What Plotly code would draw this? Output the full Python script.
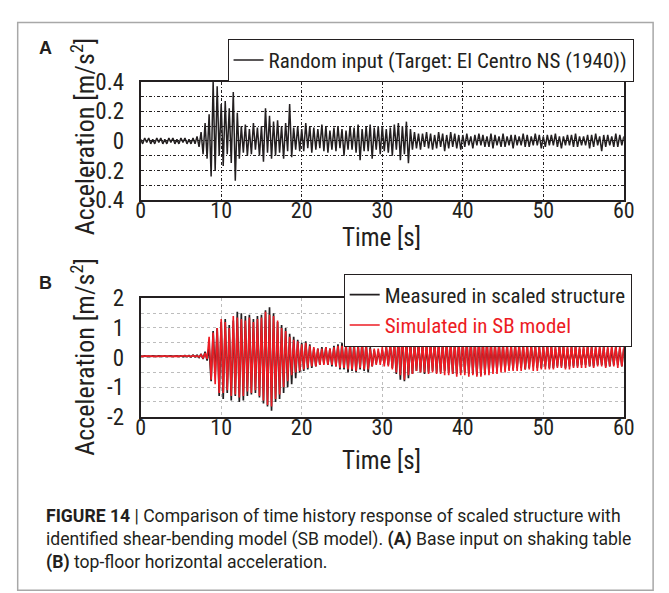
import plotly.graph_objects as go

# ---------------- data (one row per second, 0.25 s step) ----------------
DT = 0.25

random_input = [
    0.01, -0.02, 0.02, -0.01,   # 0
    0.02, -0.02, 0.01, -0.02,   # 1
    0.02, -0.01, 0.02, -0.02,   # 2
    0.01, -0.02, 0.02, -0.01,   # 3
    0.02, -0.02, 0.01, -0.02,   # 4
    0.02, -0.01, 0.02, -0.02,   # 5
    0.01, -0.02, 0.02, -0.02,   # 6
    0.03, -0.04, 0.06, -0.09,   # 7
    0.12, -0.12, 0.18, -0.24,   # 8
    0.40, -0.20, 0.37, -0.10,   # 9
    0.25, -0.17, 0.27, -0.09,   # 10
    0.22, -0.15, 0.33, -0.27,   # 11
    0.19, -0.12, 0.10, -0.08,   # 12
    0.11, -0.10, 0.08, -0.09,   # 13
    0.12, -0.06, 0.09, -0.10,   # 14
    0.10, -0.14, 0.22, -0.08,   # 15
    0.17, -0.12, 0.13, -0.10,   # 16
    0.14, -0.08, 0.10, -0.12,   # 17
    0.12, -0.07, 0.25, -0.11,   # 18
    0.09, -0.06, 0.10, -0.07,   # 19
    0.08, -0.07, 0.12, -0.05,   # 20
    0.10, -0.08, 0.09, -0.06,   # 21
    0.08, -0.05, 0.11, -0.07,   # 22
    0.10, -0.08, 0.07, -0.06,   # 23
    0.09, -0.07, 0.10, -0.05,   # 24
    0.08, -0.10, 0.07, -0.06,   # 25
    0.10, -0.06, 0.09, -0.08,   # 26
    0.11, -0.13, 0.08, -0.07,   # 27
    0.10, -0.07, 0.11, -0.12,   # 28
    0.09, -0.06, 0.10, -0.09,   # 29
    0.10, -0.07, 0.08, -0.08,   # 30
    0.09, -0.10, 0.11, -0.06,   # 31
    0.12, -0.13, 0.10, -0.09,   # 32
    0.13, -0.15, 0.08, -0.06,   # 33
    0.06, -0.05, 0.05, -0.06,   # 34
    0.05, -0.04, 0.06, -0.05,   # 35
    0.05, -0.06, 0.04, -0.05,   # 36
    0.06, -0.04, 0.05, -0.07,   # 37
    0.04, -0.05, 0.06, -0.04,   # 38
    0.05, -0.05, 0.04, -0.06,   # 39
    0.04, -0.04, 0.05, -0.03,   # 40
    0.03, -0.05, 0.04, -0.03,   # 41
    0.05, -0.03, 0.04, -0.04,   # 42
    0.03, -0.04, 0.05, -0.05,   # 43
    0.04, -0.03, 0.03, -0.04,   # 44
    0.05, -0.04, 0.03, -0.03,   # 45
    0.04, -0.05, 0.04, -0.03,   # 46
    0.03, -0.03, 0.05, -0.04,   # 47
    0.04, -0.04, 0.03, -0.03,   # 48
    0.05, -0.03, 0.04, -0.05,   # 49
    0.03, -0.04, 0.04, -0.03,   # 50
    0.04, -0.03, 0.05, -0.04,   # 51
    0.03, -0.05, 0.03, -0.03,   # 52
    0.04, -0.03, 0.04, -0.04,   # 53
    0.05, -0.04, 0.03, -0.03,   # 54
    0.03, -0.03, 0.04, -0.05,   # 55
    0.04, -0.04, 0.05, -0.03,   # 56
    0.03, -0.07, 0.04, -0.04,   # 57
    0.04, -0.03, 0.03, -0.04,   # 58
    0.05, -0.04, 0.04, -0.03,   # 59
    0.03,                       # 60
]

measured = [
    0.05, 0.04, 0.06, 0.04,     # 0
    0.05, 0.04, 0.06, 0.05,     # 1
    0.04, 0.06, 0.05, 0.04,     # 2
    0.06, 0.04, 0.05, 0.06,     # 3
    0.04, 0.05, 0.06, 0.04,     # 4
    0.06, 0.03, 0.07, 0.03,     # 5
    0.07, 0.02, 0.08, 0.02,     # 6
    0.08, 0.00, 0.12, -0.05,    # 7
    0.20, -0.10, 0.35, -0.80,   # 8
    0.90, -0.60, 1.00, -1.30,   # 9
    1.20, -1.40, 1.30, -1.20,   # 10
    1.10, -1.45, 1.25, -1.30,   # 11
    1.55, -1.50, 1.50, -1.45,   # 12
    1.40, -1.30, 1.45, -1.25,   # 13
    1.30, -1.20, 1.40, -1.35,   # 14
    1.45, -1.55, 1.60, -1.65,   # 15
    1.70, -1.80, 1.50, -1.50,   # 16
    1.20, -1.40, 1.10, -1.20,   # 17
    1.00, -1.00, 0.80, -0.90,   # 18
    0.70, -0.70, 0.60, -0.50,   # 19
    0.50, -0.45, 0.55, -0.40,   # 20
    0.45, -0.35, 0.30, -0.30,   # 21
    0.30, -0.25, 0.35, -0.20,   # 22
    0.35, -0.25, 0.30, -0.30,   # 23
    0.40, -0.30, 0.45, -0.40,   # 24
    0.50, -0.40, 0.45, -0.50,   # 25
    0.55, -0.45, 0.50, -0.50,   # 26
    0.45, -0.40, 0.55, -0.45,   # 27
    0.50, -0.50, 0.35, -0.30,   # 28
    0.25, -0.20, 0.20, -0.15,   # 29
    0.25, -0.20, 0.35, -0.25,   # 30
    0.45, -0.35, 0.50, -0.55,   # 31
    0.70, -0.75, 0.85, -0.80,   # 32
    0.75, -0.70, 0.60, -0.55,   # 33
    0.50, -0.45, 0.55, -0.50,   # 34
    0.50, -0.55, 0.45, -0.50,   # 35
    0.50, -0.45, 0.55, -0.50,   # 36
    0.45, -0.50, 0.50, -0.45,   # 37
    0.55, -0.50, 0.50, -0.55,   # 38
    0.50, -0.55, 0.55, -0.50,   # 39
    0.55, -0.50, 0.60, -0.55,   # 40
    0.60, -0.55, 0.55, -0.60,   # 41
    0.65, -0.60, 0.60, -0.55,   # 42
    0.55, -0.50, 0.50, -0.45,   # 43
    0.45, -0.45, 0.50, -0.40,   # 44
    0.45, -0.40, 0.40, -0.40,   # 45
    0.40, -0.40, 0.45, -0.35,   # 46
    0.40, -0.35, 0.40, -0.40,   # 47
    0.35, -0.35, 0.40, -0.30,   # 48
    0.40, -0.35, 0.35, -0.35,   # 49
    0.35, -0.30, 0.40, -0.35,   # 50
    0.35, -0.35, 0.30, -0.30,   # 51
    0.40, -0.30, 0.35, -0.35,   # 52
    0.30, -0.30, 0.35, -0.30,   # 53
    0.35, -0.30, 0.30, -0.25,   # 54
    0.30, -0.25, 0.35, -0.30,   # 55
    0.35, -0.30, 0.30, -0.25,   # 56
    0.30, -0.25, 0.35, -0.30,   # 57
    0.30, -0.30, 0.30, -0.25,   # 58
    0.35, -0.25, 0.30, -0.30,   # 59
    0.30,                       # 60
]

simulated = [
    0.04, 0.05, 0.04, 0.05,     # 0
    0.05, 0.04, 0.05, 0.04,     # 1
    0.04, 0.05, 0.04, 0.05,     # 2
    0.05, 0.04, 0.05, 0.04,     # 3
    0.04, 0.05, 0.05, 0.04,     # 4
    0.05, 0.04, 0.06, 0.04,     # 5
    0.06, 0.03, 0.07, 0.03,     # 6
    0.06, 0.02, 0.10, -0.03,    # 7
    0.15, -0.05, 0.70, -0.75,   # 8
    0.85, -0.90, 1.00, -1.20,   # 9
    1.30, -1.20, 1.20, -1.10,   # 10
    1.00, -1.30, 1.40, -1.25,   # 11
    1.35, -1.35, 1.30, -1.30,   # 12
    1.25, -1.15, 1.35, -1.20,   # 13
    1.20, -1.10, 1.30, -1.30,   # 14
    1.35, -1.45, 1.55, -1.60,   # 15
    1.45, -1.65, 1.40, -1.40,   # 16
    1.25, -1.25, 1.00, -1.00,   # 17
    0.90, -0.80, 0.70, -0.60,   # 18
    0.60, -0.50, 0.55, -0.45,   # 19
    0.45, -0.40, 0.50, -0.35,   # 20
    0.40, -0.30, 0.35, -0.30,   # 21
    0.30, -0.25, 0.30, -0.25,   # 22
    0.35, -0.25, 0.30, -0.25,   # 23
    0.35, -0.30, 0.40, -0.35,   # 24
    0.40, -0.35, 0.45, -0.40,   # 25
    0.45, -0.40, 0.40, -0.45,   # 26
    0.40, -0.35, 0.50, -0.40,   # 27
    0.45, -0.40, 0.30, -0.30,   # 28
    0.30, -0.25, 0.30, -0.25,   # 29
    0.35, -0.30, 0.40, -0.30,   # 30
    0.50, -0.40, 0.55, -0.50,   # 31
    0.60, -0.60, 0.90, -0.75,   # 32
    0.65, -0.60, 0.55, -0.55,   # 33
    0.50, -0.45, 0.55, -0.50,   # 34
    0.55, -0.50, 0.60, -0.55,   # 35
    0.55, -0.50, 0.60, -0.55,   # 36
    0.60, -0.55, 0.55, -0.60,   # 37
    0.65, -0.60, 0.60, -0.55,   # 38
    0.60, -0.65, 0.65, -0.60,   # 39
    0.70, -0.60, 0.65, -0.65,   # 40
    0.65, -0.60, 0.70, -0.65,   # 41
    0.75, -0.65, 0.70, -0.60,   # 42
    0.70, -0.60, 0.65, -0.55,   # 43
    0.60, -0.55, 0.60, -0.50,   # 44
    0.55, -0.50, 0.55, -0.45,   # 45
    0.50, -0.45, 0.55, -0.45,   # 46
    0.55, -0.45, 0.50, -0.40,   # 47
    0.50, -0.40, 0.50, -0.45,   # 48
    0.50, -0.45, 0.45, -0.40,   # 49
    0.45, -0.40, 0.50, -0.40,   # 50
    0.50, -0.40, 0.45, -0.35,   # 51
    0.45, -0.35, 0.50, -0.40,   # 52
    0.45, -0.40, 0.45, -0.35,   # 53
    0.50, -0.35, 0.40, -0.35,   # 54
    0.45, -0.35, 0.45, -0.30,   # 55
    0.40, -0.35, 0.45, -0.30,   # 56
    0.45, -0.30, 0.40, -0.35,   # 57
    0.40, -0.30, 0.45, -0.30,   # 58
    0.40, -0.35, 0.40, -0.30,   # 59
    0.35,                       # 60
]

x_ticks = [0, 10, 20, 30, 40, 50, 60]
yA_ticks = [-0.4, -0.2, 0, 0.2, 0.4]
yA_labels = ["-0.4", "-0.2", "0", "0.2", "0.4"]
yB_ticks = [-2, -1, 0, 1, 2]
yB_labels = ["-2", "-1", "0", "1", "2"]

t = [i * DT for i in range(len(random_input))]

# ---------------- styling ----------------
W, H = 669, 593
INK = "#231f20"
RED = "#ed1c24"
NARROW = "Liberation Sans Narrow, Arial Narrow, Roboto Condensed, Liberation Sans, sans-serif"
CAPTION = "Roboto, Liberation Sans, sans-serif"
BOLD = "Liberation Sans, Arial, sans-serif"


def px_x(x):
    return x / W


def px_y(y):
    return 1 - y / H


fig = go.Figure()
fig.add_trace(go.Scatter(x=t, y=random_input, mode="lines",
                         line=dict(color=INK, width=1.5),
                         name="Random input (Target: El Centro NS (1940))",
                         xaxis="x", yaxis="y", legend="legend"))
fig.add_trace(go.Scatter(x=t, y=measured, mode="lines",
                         line=dict(color=INK, width=1.7),
                         name="Measured in scaled structure",
                         xaxis="x2", yaxis="y2", legend="legend2"))
fig.add_trace(go.Scatter(x=t, y=simulated, mode="lines",
                         line=dict(color=RED, width=1.6),
                         name='<span style="color:%s">Simulated in SB model</span>' % RED,
                         xaxis="x2", yaxis="y2", legend="legend2"))

common_x = dict(range=[0, 60], tickvals=x_ticks, showline=True, linewidth=2,
                linecolor=INK, mirror=True, ticks="", ticklen=0, zeroline=False,
                tickfont=dict(family=NARROW, size=22, color=INK),
                ticklabelstandoff=-10)
common_y = dict(showline=True, linewidth=2, linecolor=INK, mirror=True,
                ticks="", ticklen=0, zeroline=False,
                tickfont=dict(family=NARROW, size=23, color=INK),
                ticklabelstandoff=10)

gridA = dict(showgrid=True, gridcolor=INK, gridwidth=0.8, griddash="3px,2px,1px,2px")
gridB = dict(showgrid=True, gridcolor="#bdbdbd", gridwidth=1, griddash="dot")

fig.update_layout(
    width=W, height=H,
    margin=dict(l=0, r=0, t=0, b=0),
    paper_bgcolor="white", plot_bgcolor="white",
    showlegend=True,
    xaxis=dict(domain=[px_x(139), px_x(634)], anchor="y", **common_x, **gridA),
    yaxis=dict(domain=[px_y(196), px_y(72)], anchor="x", range=[-0.4, 0.4],
               tickvals=yA_ticks, ticktext=yA_labels, **common_y, **gridA,
               minor=dict(dtick=0.1, showgrid=True, gridcolor=INK, gridwidth=0.8,
                          griddash="3px,2px,1px,2px")),
    xaxis2=dict(domain=[px_x(139), px_x(634)], anchor="y2", **common_x, **gridB),
    yaxis2=dict(domain=[px_y(423), px_y(299)], anchor="x2", range=[-2, 2],
                tickvals=yB_ticks, ticktext=yB_labels, **common_y, **gridB,
                minor=dict(dtick=0.5, showgrid=True, gridcolor="#bdbdbd", gridwidth=1,
                           griddash="dot")),
    legend=dict(x=px_x(228), y=px_y(27), xanchor="left", yanchor="top",
                bgcolor="white", bordercolor=INK, borderwidth=1,
                font=dict(family=NARROW, size=21, color=INK), itemwidth=30,
                tracegroupgap=0),
    legend2=dict(x=px_x(347), y=px_y(273), xanchor="left", yanchor="top",
                 bgcolor="white", bordercolor=INK, borderwidth=1,
                 font=dict(family=NARROW, size=21, color=INK), itemwidth=30,
                 tracegroupgap=0),
)

ann = []
# panel letters
ann.append(dict(text="<b>A</b>", x=px_x(42), y=px_y(37), font=dict(family=BOLD, size=18, color=INK)))
ann.append(dict(text="<b>B</b>", x=px_x(42), y=px_y(283), font=dict(family=BOLD, size=18, color=INK)))
# axis titles
for yc in (129, 360):
    ann.append(dict(text="Acceleration [m/s<sup>2</sup>]", textangle=-90,
                    x=px_x(80), y=px_y(yc), font=dict(family=NARROW, size=26, color=INK)))
for yc in (235, 469):
    ann.append(dict(text="Time [s]", x=px_x(386), y=px_y(yc), borderpad=0,
                    font=dict(family=NARROW, size=25, color=INK)))
# caption
cap = [
    "<b>FIGURE 14</b> | Comparison of time history response of scaled structure with",
    "identified shear-bending model (SB model). <b>(A)</b> Base input on shaking table",
    "<b>(B)</b> top-floor horizontal acceleration.",
]
for line, yc in zip(cap, (527, 552, 576)):
    ann.append(dict(text=line, x=px_x(40), y=px_y(yc), xanchor="left",
                    font=dict(family=CAPTION, size=17.6, color=INK)))

for a in ann:
    a.setdefault("xanchor", "center")
    a.update(xref="paper", yref="paper", yanchor="middle", showarrow=False)
fig.update_layout(annotations=ann)

# outer frame of the figure panel
fig.add_shape(type="rect", xref="paper", yref="paper",
              x0=px_x(13), x1=px_x(664), y0=-0.02, y1=px_y(10),
              line=dict(color="#a8a8a8", width=1.5), layer="below")

fig.write_html("out.html")
